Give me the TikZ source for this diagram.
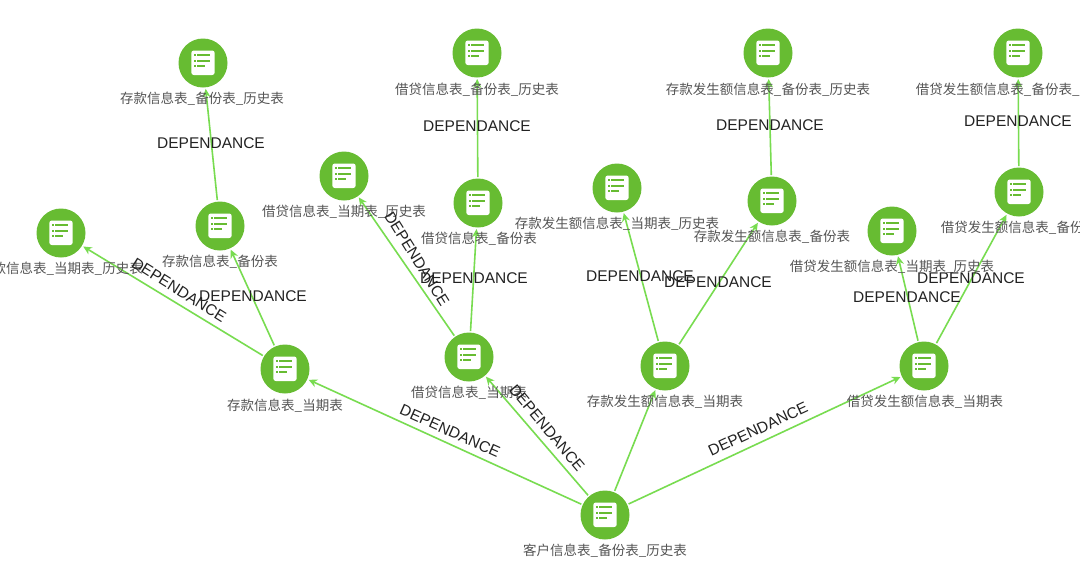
\documentclass[tikz,border=0pt]{standalone}
\usepackage{fontspec}
\setmainfont{Liberation Sans}
\newfontfamily\cjk{Noto Sans CJK SC}
\usetikzlibrary{arrows.meta}
\definecolor{nodegreen}{HTML}{67BC32}
\definecolor{edgegreen}{HTML}{78DC50}
\definecolor{labelgray}{HTML}{555555}
\definecolor{deptext}{HTML}{222222}
\tikzset{
  x=1pt,y=-1pt,
  dbnode/.style={circle,fill=nodegreen,draw=none,minimum size=49pt,inner sep=0pt,outer sep=1.5pt,
    path picture={
      \begin{scope}[shift={(path picture bounding box.center)}]
        \fill[white,rounded corners=2.5pt] (-11.7,-12.5) rectangle (11.7,12);
        \fill[nodegreen] (-9,-8.7) rectangle (-7.3,-6.9);
        \fill[nodegreen] (-9,-3.2) rectangle (-7.3,-1.4);
        \fill[nodegreen] (-9,2.4) rectangle (-7.3,4.2);
        \fill[nodegreen] (-5.7,-8.7) rectangle (7.3,-6.9);
        \fill[nodegreen] (-5.7,-3.2) rectangle (7.3,-1.4);
        \fill[nodegreen] (-5.7,2.4) rectangle (1.7,4.2);
      \end{scope}
    }},
  nodelabel/.style={font=\cjk\fontsize{13.5pt}{15pt}\selectfont,text=labelgray,inner sep=0pt},
  deplabel/.style={font=\fontsize{15.5pt}{18pt}\selectfont,text=deptext,inner sep=0pt},
  link/.style={draw=edgegreen,line width=1.6pt,-{Stealth[length=8.5pt,width=8pt]}},
}
\begin{document}
\begin{tikzpicture}
\useasboundingbox (0,0) rectangle (1080,568);
\clip (0,0) rectangle (1080,568);
\fill[white] (0,0) rectangle (1080,568);
% nodes
\node[dbnode] (root) at (605,515) {};
\node[dbnode] (a) at (285,369) {};
\node[dbnode] (b) at (469,357) {};
\node[dbnode] (c) at (665,366) {};
\node[dbnode] (d) at (924,366) {};
\node[dbnode] (a1) at (220,226) {};
\node[dbnode] (a2) at (61,233) {};
\node[dbnode] (a1h) at (203,63) {};
\node[dbnode] (b1) at (478,203) {};
\node[dbnode] (b2) at (344,176) {};
\node[dbnode] (b1h) at (477,53) {};
\node[dbnode] (c1) at (772,201) {};
\node[dbnode] (c2) at (617,188) {};
\node[dbnode] (c1h) at (768,53) {};
\node[dbnode] (d1) at (1019,192) {};
\node[dbnode] (d2) at (892,231) {};
\node[dbnode] (d1h) at (1018,53) {};
% connectors
\draw[link] (root) -- (a);
\draw[link] (root) -- (b);
\draw[link] (root) -- (c);
\draw[link] (root) -- (d);
\draw[link] (a) -- (a1);
\draw[link] (a) -- (a2);
\draw[link] (a1) -- (a1h);
\draw[link] (b) -- (b1);
\draw[link] (b) -- (b2);
\draw[link] (b1) -- (b1h);
\draw[link] (c) -- (c1);
\draw[link] (c) -- (c2);
\draw[link] (c1) -- (c1h);
\draw[link] (d) -- (d1);
\draw[link] (d) -- (d2);
\draw[link] (d1) -- (d1h);
% node labels
\node[nodelabel] (lroot) at (605,551) {客户信息表\_备份表\_历史表};
\node[nodelabel] (la) at (285,406) {存款信息表\_当期表};
\node[nodelabel] (lb) at (469,393) {借贷信息表\_当期表};
\node[nodelabel] (lc) at (665,402) {存款发生额信息表\_当期表};
\node[nodelabel] (ld) at (925,402) {借贷发生额信息表\_当期表};
\node[nodelabel] (la1) at (220,262) {存款信息表\_备份表};
\node[nodelabel] (la2) at (61,269) {存款信息表\_当期表\_历史表};
\node[nodelabel] (la1h) at (202,99) {存款信息表\_备份表\_历史表};
\node[nodelabel] (lb1) at (479,239) {借贷信息表\_备份表};
\node[nodelabel] (lb2) at (344,212) {借贷信息表\_当期表\_历史表};
\node[nodelabel] (lb1h) at (477,90) {借贷信息表\_备份表\_历史表};
\node[nodelabel] (lc1) at (772,237) {存款发生额信息表\_备份表};
\node[nodelabel] (lc2) at (617,224) {存款发生额信息表\_当期表\_历史表};
\node[nodelabel] (lc1h) at (768,90) {存款发生额信息表\_备份表\_历史表};
\node[nodelabel] (ld1) at (1019,228) {借贷发生额信息表\_备份表};
\node[nodelabel] (ld2) at (892,267) {借贷发生额信息表\_当期表\_历史表};
\node[nodelabel] (ld1h) at (1018,90) {借贷发生额信息表\_备份表\_历史表};
% connector labels
\node[deplabel] (e1) at (211,143) {DEPENDANCE};
\node[deplabel] (e2) at (477,126) {DEPENDANCE};
\node[deplabel] (e3) at (770,125) {DEPENDANCE};
\node[deplabel] (e4) at (1018,121) {DEPENDANCE};
\node[deplabel] (e5) at (253,296) {DEPENDANCE};
\node[deplabel] (e6) at (474,278) {DEPENDANCE};
\node[deplabel] (e7) at (640,276) {DEPENDANCE};
\node[deplabel] (e8) at (718,282) {DEPENDANCE};
\node[deplabel] (e9) at (907,297) {DEPENDANCE};
\node[deplabel] (e10) at (971,278) {DEPENDANCE};
\node[deplabel,rotate=-32] (e11) at (179,290) {DEPENDANCE};
\node[deplabel,rotate=-58] (e12) at (417,259) {DEPENDANCE};
\node[deplabel,rotate=-24] (e13) at (450,431) {DEPENDANCE};
\node[deplabel,rotate=-50] (e14) at (547,428) {DEPENDANCE};
\node[deplabel,rotate=25] (e15) at (758,429) {DEPENDANCE};
\end{tikzpicture}
\end{document}
